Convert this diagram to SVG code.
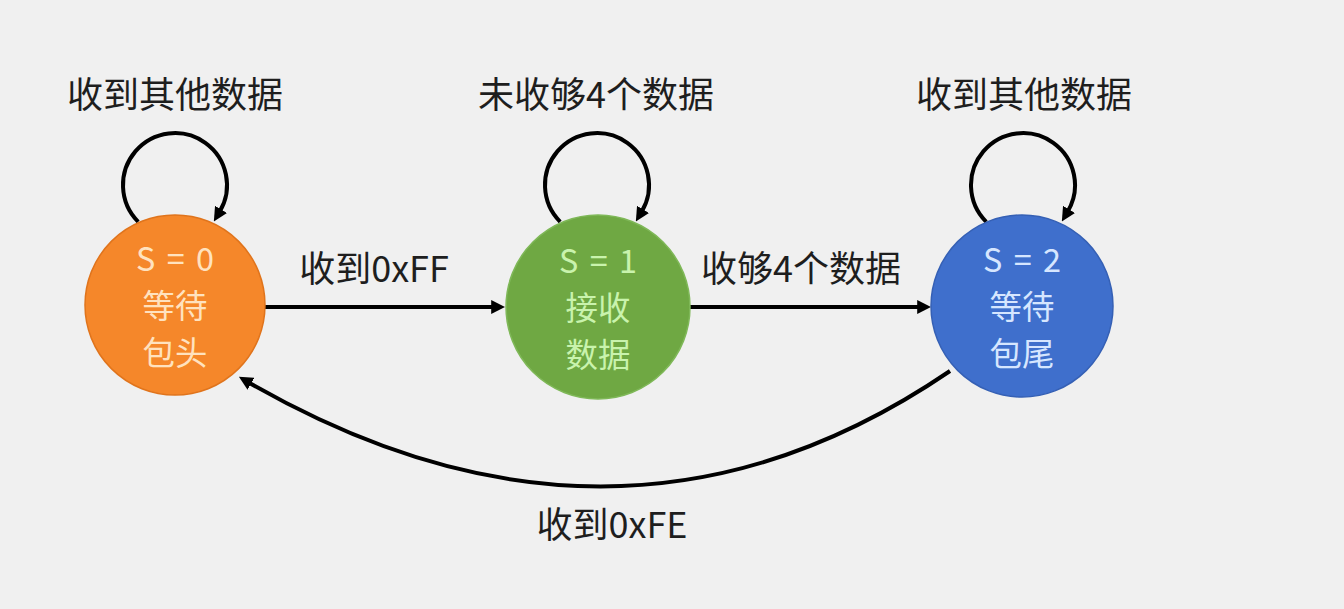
<svg xmlns="http://www.w3.org/2000/svg" width="1344" height="609" viewBox="0 0 1344 609">
<style>
.lbl{font-family:"Noto Sans CJK SC","Liberation Sans",sans-serif;font-size:36px;fill:#1e1e1e;text-anchor:middle}
.ntx{font-family:"Noto Sans CJK SC","Liberation Sans",sans-serif;font-size:32.4px;text-anchor:middle}
.sv{word-spacing:4px}
.edge{fill:none;stroke:#000;stroke-width:4}
</style>
<defs>
<marker id="arr" viewBox="0 0 10 10" refX="2" refY="5" markerWidth="14" markerHeight="14" markerUnits="userSpaceOnUse" orient="auto">
<path d="M0,0 L10,5 L0,10 z" fill="#000"/>
</marker>
</defs>
<rect x="0" y="0" width="1344" height="609" fill="#f0f0f0"/>
<g id="connectors">
<path class="edge" marker-end="url(#arr)" d="M138.2 221.8 A52 52 0 1 1 219.6 211.8"/>
<path class="edge" marker-end="url(#arr)" d="M560.2 221.8 A52 52 0 1 1 641.6 211.8"/>
<path class="edge" marker-end="url(#arr)" d="M986.2 221.8 A52 52 0 1 1 1067.6 211.8"/>
<path class="edge" marker-end="url(#arr)" d="M265 307 L494 307"/>
<path class="edge" marker-end="url(#arr)" d="M690 307 L920 307"/>
<path class="edge" marker-end="url(#arr)" d="M950 371 Q620 596 248.6 382.4"/>
<text class="lbl" x="175" y="108">收到其他数据</text>
<text class="lbl" x="596" y="108">未收够4个数据</text>
<text class="lbl" x="1024" y="108">收到其他数据</text>
<text class="lbl" x="374" y="282">收到0xFF</text>
<text class="lbl" x="801" y="282">收够4个数据</text>
<text class="lbl" x="612" y="538">收到0xFE</text>
</g>
<g id="node0">
<circle cx="175" cy="305" r="90" fill="#f5872a" stroke="#e0741c" stroke-width="1.5"/>
<text class="ntx sv" x="175" y="271" fill="#ffe2bf">S = 0</text>
<text class="ntx" x="175" y="318" fill="#ffe2bf">等待</text>
<text class="ntx" x="175" y="365" fill="#ffe2bf">包头</text>
</g>
<g id="node1">
<circle cx="598" cy="307" r="92" fill="#6fa843" stroke="#7fb858" stroke-width="1.5"/>
<text class="ntx sv" x="598" y="273" fill="#c9f3ad">S = 1</text>
<text class="ntx" x="598" y="320" fill="#c9f3ad">接收</text>
<text class="ntx" x="598" y="367" fill="#c9f3ad">数据</text>
</g>
<g id="node2">
<circle cx="1022" cy="306" r="91" fill="#3f6fcc" stroke="#3560b5" stroke-width="1.5"/>
<text class="ntx sv" x="1022" y="272" fill="#d6e6ff">S = 2</text>
<text class="ntx" x="1022" y="319" fill="#d6e6ff">等待</text>
<text class="ntx" x="1022" y="366" fill="#d6e6ff">包尾</text>
</g>
</svg>
